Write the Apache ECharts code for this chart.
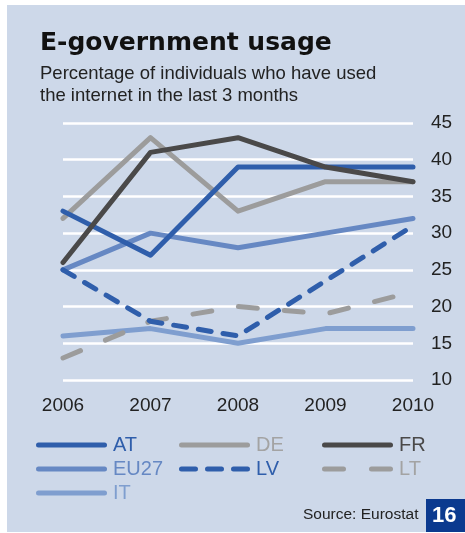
<!DOCTYPE html>
<html>
<head>
<meta charset="utf-8">
<script src="https://cdn.jsdelivr.net/npm/echarts@6/dist/echarts.min.js"></script>
<style>
html,body{margin:0;padding:0;background:#fff;}
#chart{width:465px;height:533px;}
</style>
</head>
<body>
<div id="chart"></div>
<script>
var years = ['2006','2007','2008','2009','2010'];
var AT   = [33, 27, 39, 39, 39];
var DE   = [32, 43, 33, 37, 37];
var FR   = [26, 41, 43, 39, 37];
var EU27 = [25, 30, 28, 30, 32];
var LV   = [25, 18, 16, 23.5, 31];
var LT   = [13, 18, 20, 19, 22];
var IT   = [16, 17, 15, 17, 17];
var yTicks = [10, 15, 20, 25, 30, 35, 40, 45];

var C = {
  AT: '#2f5eab', DE: '#9c9c9c', FR: '#4a4949', EU27: '#6688c3',
  LV: '#2f5eab', LT: '#9c9c9c', IT: '#7f9ecf'
};
var TXT = {
  AT: '#2f5eab', DE: '#a3a3a3', FR: '#4a4949', EU27: '#6688c3',
  LV: '#2f5eab', LT: '#a3a3a3', IT: '#7f9ecf'
};
var LW = 5;
function seg(x0, x1) {
  return 'M' + (x0 + 2.5) + ',0 L' + (x1 - 2.5) + ',0 A2.5,2.5 0 0 1 ' + (x1 - 2.5) + ',5 L' + (x0 + 2.5) + ',5 A2.5,2.5 0 0 1 ' + (x0 + 2.5) + ',0 Z ';
}
var ICON = {
  solid: 'path://' + seg(0, 71),
  LV: 'path://' + seg(0, 19) + seg(26, 45) + seg(52, 71),
  LT: 'path://' + seg(0, 24) + seg(47, 71)
};
function mk(name, data, dash) {
  return {
    name: name, type: 'line', data: data, symbol: 'none', silent: true,
    lineStyle: { color: C[name], width: LW, cap: 'round', join: 'round',
      type: dash || 'solid' },
    itemStyle: { color: C[name] }
  };
}
function legend(left, names) {
  return {
    orient: 'vertical', left: left, top: 435, itemWidth: 71, itemHeight: 5,
    itemGap: 4, padding: 0,
    data: names.map(function (n) {
      return { name: n, icon: ICON[n] || ICON.solid, textStyle: { color: TXT[n] } };
    }),
    textStyle: { fontFamily: 'Liberation Sans, Arial, sans-serif', fontSize: 20, lineHeight: 20, padding: [0,0,0,1] },
    selectedMode: false
  };
}
var chart = echarts.init(document.getElementById('chart'), null, { renderer: 'canvas' });
chart.setOption({
  animation: false,
  backgroundColor: '#ffffff',
  graphic: [
    { type: 'rect', shape: { x: 7, y: 5, width: 458, height: 527 }, style: { fill: '#cdd8e9' }, z: -10 },
    { type: 'text', left: 40, top: 31, style: { text: 'E-government usage', font: 'bold 25px "DejaVu Sans", Arial, sans-serif', fill: '#111' } },
    { type: 'text', left: 40, top: 64, style: { text: 'Percentage of individuals who have used', font: '18.5px "Liberation Sans", Arial, sans-serif', fill: '#222' } },
    { type: 'text', left: 40, top: 86, style: { text: 'the internet in the last 3 months', font: '18.5px "Liberation Sans", Arial, sans-serif', fill: '#222' } },
    { type: 'text', left: 303, top: 507, style: { text: 'Source: Eurostat', font: '15.5px "Liberation Sans", Arial, sans-serif', fill: '#222' } },
    { type: 'rect', shape: { x: 426, y: 499, width: 39, height: 33 }, style: { fill: '#0b3a8f' } },
    { type: 'text', left: 432, top: 505, style: { text: '16', font: 'bold 22px "Liberation Sans", Arial, sans-serif', fill: '#fff' } }
  ],
  legend: [
    legend(36, ['AT', 'EU27', 'IT']),
    legend(179, ['DE', 'LV']),
    legend(322, ['FR', 'LT'])
  ],
  grid: { left: 63, right: 52, top: 123, bottom: 153, containLabel: false },
  xAxis: {
    type: 'category', data: years, boundaryGap: false,
    axisLine: { show: false }, axisTick: { show: false },
    axisLabel: { color: '#222', fontSize: 19, margin: 16, fontFamily: 'Liberation Sans, Arial, sans-serif' },
    splitLine: { show: false }
  },
  yAxis: {
    type: 'value', position: 'right', min: yTicks[0], max: yTicks[yTicks.length - 1], interval: 5,
    axisLine: { show: false }, axisTick: { show: false },
    axisLabel: { color: '#222', fontSize: 19, margin: 18, fontFamily: 'Liberation Sans, Arial, sans-serif' },
    splitLine: { show: true, lineStyle: { color: '#ffffff', width: 2.5 } }
  },
  series: [
    mk('IT', IT),
    mk('LT', LT, [19, 27]),
    mk('EU27', EU27),
    mk('LV', LV, [13, 12]),
    mk('DE', DE),
    mk('AT', AT),
    mk('FR', FR)
  ]
});
</script>
</body>
</html>
